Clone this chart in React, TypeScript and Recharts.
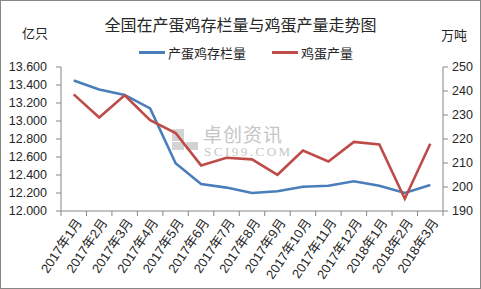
import { Legend, Line, LineChart, XAxis, YAxis } from "recharts";

const months = [
  "2017年1月", "2017年2月", "2017年3月", "2017年4月", "2017年5月",
  "2017年6月", "2017年7月", "2017年8月", "2017年9月", "2017年10月",
  "2017年11月", "2017年12月", "2018年1月", "2018年2月", "2018年3月",
];
// 产蛋鸡存栏量, 亿只
const layingHens = [13.45, 13.35, 13.29, 13.14, 12.53, 12.3, 12.26, 12.2, 12.22, 12.27, 12.28, 12.33, 12.28, 12.2, 12.29];
// 鸡蛋产量, 万吨
const eggOutput = [238.6, 229.0, 238.2, 227.8, 222.5, 209.0, 212.2, 211.5, 205.1, 215.2, 210.6, 218.8, 217.7, 195.1, 218.0];
const leftTicks = [12.0, 12.2, 12.4, 12.6, 12.8, 13.0, 13.2, 13.4, 13.6];
const rightTicks = [190, 200, 210, 220, 230, 240, 250];

const W = 481;
const H = 289;
const LEFT_W = 61;
const RIGHT_W = 38;
const X_H = 78;
const TOP = 48;
const BAND = (W - LEFT_W - RIGHT_W) / months.length;

const TEXT = "#262626";
const AXIS = "#868686";
const FONT = '"Liberation Sans", "Noto Sans CJK SC", sans-serif';
const CJK = '"Noto Sans CJK SC", sans-serif';

const data = months.map((m, i) => ({ m, hens: layingHens[i], eggs: eggOutput[i] }));

function MonthTick(props: any) {
  const { x, y, payload, index } = props;
  const left = x - BAND / 2;
  return (
    <g>
      <line x1={left} y1={y} x2={left} y2={y + 5} stroke={AXIS} />
      {index === months.length - 1 ? (
        <line x1={x + BAND / 2} y1={y} x2={x + BAND / 2} y2={y + 5} stroke={AXIS} />
      ) : null}
      <text
        x={x + 5}
        y={y + 9}
        transform={`rotate(-56 ${x + 5} ${y + 9})`}
        textAnchor="end"
        dominantBaseline="central"
        fill={TEXT}
        fontSize={13}
        fontFamily={FONT}
      >
        {payload.value}
      </text>
    </g>
  );
}

function LegendRow(props: any) {
  const items = props.payload || [];
  return (
    <div style={{ display: "flex", gap: 26, marginLeft: 139, fontFamily: CJK, fontSize: 13, color: TEXT }}>
      {items.map((it: any) => (
        <div key={it.value} style={{ display: "flex", alignItems: "center" }}>
          <span style={{ display: "inline-block", width: 26, height: 3, background: it.color, marginRight: 3 }} />
          <span>{it.value}</span>
        </div>
      ))}
    </div>
  );
}

export default function App() {
  return (
    <div style={{ position: "fixed", left: 0, top: 0, width: W, height: H, background: "#fff" }}>
      <div
        style={{
          position: "absolute",
          inset: 0,
          border: `1px solid ${AXIS}`,
          boxSizing: "border-box",
          pointerEvents: "none",
          zIndex: 2,
        }}
      />
      <div style={{ position: "absolute", left: 0, top: 12, width: W, textAlign: "center", fontFamily: CJK, fontSize: 16, color: TEXT }}>
        全国在产蛋鸡存栏量与鸡蛋产量走势图
      </div>
      <div style={{ position: "absolute", left: 22, top: 23, fontFamily: CJK, fontSize: 13, color: TEXT }}>亿只</div>
      <div style={{ position: "absolute", left: 441, top: 25, fontFamily: CJK, fontSize: 13, color: TEXT }}>万吨</div>
      <div style={{ position: "absolute", left: 172, top: 126, color: "#c6c6c6", pointerEvents: "none" }}>
        <div style={{ position: "absolute", left: 0, top: 3, width: 12, height: 12, background: "#d3d3d3" }} />
        <div style={{ position: "absolute", left: 0, top: 16, width: 12, height: 8, background: "#d3d3d3" }} />
        <div style={{ position: "absolute", left: 14, top: 16, width: 12, height: 8, background: "#d3d3d3" }} />
        <div style={{ position: "absolute", left: 31, top: -2, fontFamily: CJK, fontSize: 19, lineHeight: "19px", whiteSpace: "nowrap", letterSpacing: 1 }}>卓创资讯</div>
        <div style={{ position: "absolute", left: 32, top: 20, fontFamily: '"Liberation Serif", serif', fontSize: 13, lineHeight: "11px", whiteSpace: "nowrap", letterSpacing: 2.5 }}>SCI99.COM</div>
      </div>
      <LineChart width={W} height={H} data={data} margin={{ top: TOP, right: 0, bottom: 0, left: 0 }}>
        <XAxis
          dataKey="m"
          scale="band"
          interval={0}
          height={X_H}
          tickLine={false}
          tickSize={0}
          tickMargin={0}
          axisLine={{ stroke: AXIS }}
          tick={<MonthTick />}
        />
        <YAxis
          yAxisId="l"
          orientation="left"
          width={LEFT_W}
          domain={[12, 13.6]}
          ticks={leftTicks}
          tickFormatter={(v) => Number(v).toFixed(3)}
          tick={{ fill: TEXT, fontSize: 12.5, fontFamily: FONT }}
          tickSize={5}
          tickMargin={9}
          tickLine={{ stroke: AXIS }}
          axisLine={{ stroke: AXIS }}
          interval={0}
        />
        <YAxis
          yAxisId="r"
          orientation="right"
          width={RIGHT_W}
          domain={[190, 250]}
          ticks={rightTicks}
          tick={{ fill: TEXT, fontSize: 12.5, fontFamily: FONT }}
          tickSize={5}
          tickMargin={4}
          tickLine={{ stroke: AXIS }}
          axisLine={{ stroke: AXIS }}
          interval={0}
        />
        <Legend verticalAlign="top" align="left" wrapperStyle={{ top: 43, left: 0 }} content={<LegendRow />} />
        <Line
          yAxisId="l"
          type="linear"
          dataKey="hens"
          name="产蛋鸡存栏量"
          stroke="#4A7EBB"
          strokeWidth={2.6}
          dot={false}
          isAnimationActive={false}
        />
        <Line
          yAxisId="r"
          type="linear"
          dataKey="eggs"
          name="鸡蛋产量"
          stroke="#BE4B48"
          strokeWidth={2.6}
          dot={false}
          isAnimationActive={false}
        />
      </LineChart>
    </div>
  );
}
